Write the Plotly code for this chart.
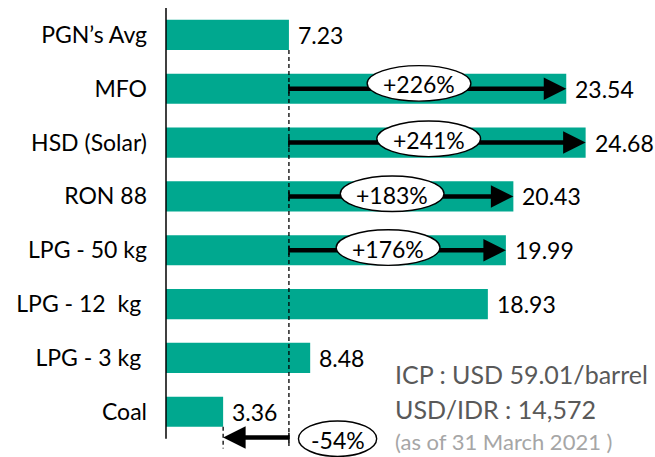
import plotly.graph_objects as go

# data
categories = ["PGN’s Avg", "MFO", "HSD (Solar)", "RON 88", "LPG - 50 kg",
              "LPG - 12\u00a0 kg\u00a0", "LPG - 3 kg\u00a0", "Coal"]
prices = [7.23, 23.54, 24.68, 20.43, 19.99, 18.93, 8.48, 3.36]
price_labels = ["7.23", "23.54", "24.68", "20.43", "19.99", "18.93", "8.48", "3.36"]

base_index = 0  # PGN's Avg is the reference price
change_rows = [1, 2, 3, 4, 7]
change_labels = ["+226%", "+241%", "+183%", "+176%", "-54%"]

notes = ["ICP : USD 59.01/barrel", "USD/IDR : 14,572", "(as of 31 March 2021 )"]

TEAL = "#00A88F"
FONT = "Lato"

# placement of the ellipse badges (layout only)
badge_x = [14.88, 15.45, 13.3, 13.06, 10.09]
badge_dy = [-0.1, -0.07, -0.05, -0.05, 0.02]
badge_w = [6.1, 6.1, 6.1, 6.1, 4.6]
badge_h = 0.66

fig = go.Figure()
fig.add_trace(go.Bar(
    y=categories, x=prices, orientation="h",
    marker=dict(color=TEAL, line=dict(width=0)),
    width=0.56, hoverinfo="skip",
))

shapes = []
annotations = []
base = prices[base_index]
ys = list(range(len(categories)))

# left axis line
shapes.append(dict(type="line", xref="x", yref="y", x0=0, x1=0, y0=-0.5, y1=7.5,
                   line=dict(color="black", width=1.5)))
# dashed reference line from PGN's avg
shapes.append(dict(type="line", xref="x", yref="y", x0=base, x1=base,
                   y0=ys[base_index] + 0.28, y1=7.68,
                   line=dict(color="black", width=1.3, dash="4px,3px")))
# dashed line at coal end
shapes.append(dict(type="line", xref="x", yref="y", x0=prices[7], x1=prices[7],
                   y0=7.28, y1=7.68,
                   line=dict(color="black", width=1.3, dash="4px,3px")))

for k, row in enumerate(change_rows):
    tip = prices[row]
    y = ys[row] if row != 7 else ys[row] + 0.48
    direction = 1 if tip > base else -1
    # shaft
    shapes.append(dict(type="line", xref="x", yref="y", x0=base, x1=tip - direction * 0.6,
                       y0=y, y1=y, line=dict(color="black", width=4.5)))
    # small start tick
    shapes.append(dict(type="line", xref="x", yref="y", x0=base, x1=base,
                       y0=y - 0.09, y1=y + 0.09, line=dict(color="black", width=1.5)))
    # badge
    cy = y + badge_dy[k]
    shapes.append(dict(type="circle", xref="x", yref="y",
                       x0=badge_x[k] - badge_w[k] / 2, x1=badge_x[k] + badge_w[k] / 2,
                       y0=cy - badge_h / 2, y1=cy + badge_h / 2,
                       fillcolor="white", line=dict(color="black", width=1.4)))
    annotations.append(dict(x=badge_x[k], y=cy + 0.02, xref="x", yref="y", text=change_labels[k],
                            showarrow=False, font=dict(family=FONT, size=23, color="black")))
    # arrowhead
    annotations.append(dict(x=tip, y=y, ax=tip - direction * 1.3, ay=y, xref="x", yref="y",
                            axref="x", ayref="y", text="", showarrow=True, arrowhead=2,
                            arrowsize=1, arrowwidth=4.5, arrowcolor="black", standoff=0))

# value labels
for cat, v, lab in zip(categories, prices, price_labels):
    annotations.append(dict(x=v, y=cat, xref="x", yref="y", text=lab, showarrow=False,
                            xanchor="left", xshift=7,
                            font=dict(family=FONT, size=23, color="black")))

# notes block
note_y = [6.3, 6.94, 7.56]
note_size = [25, 25, 22]
note_color = ["#595959", "#595959", "#A6A6A6"]
for t, ny, s, c in zip(notes, note_y, note_size, note_color):
    annotations.append(dict(x=13.35, y=ny, xref="x", yref="y", text=t, showarrow=False,
                            xanchor="left", yanchor="middle",
                            font=dict(family=FONT, size=s, color=c)))

fig.update_layout(
    width=655, height=457,
    margin=dict(l=160, r=0, t=8, b=0, autoexpand=False),
    plot_bgcolor="white", paper_bgcolor="white",
    showlegend=False,
    shapes=shapes, annotations=annotations,
    xaxis=dict(range=[-0.353, 28.76], visible=False, fixedrange=True, automargin=False),
    yaxis=dict(range=[7.84, -0.5], showgrid=False, zeroline=False, showline=False,
               ticks="", ticklabelstandoff=12, automargin=False,
               tickfont=dict(family=FONT, size=23, color="black")),
)

# drop the default page margin so the figure sits at the window's corner
fig.write_html("out.html", config={"displayModeBar": False},
               post_script="document.body.style.margin = '0';")
